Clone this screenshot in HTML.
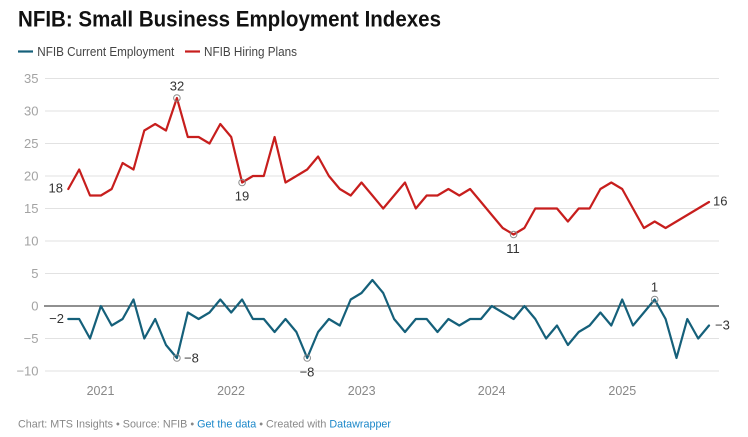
<!DOCTYPE html>
<html>
<head>
<meta charset="utf-8">
<style>
  html, body { margin: 0; padding: 0; background: #fff; }
  body { width: 748px; height: 437px; overflow: hidden; }
  svg { display: block; font-family: "Liberation Sans", Arial, sans-serif; }
</style>
</head>
<body>
<svg width="748" height="437" viewBox="0 0 748 437" xmlns="http://www.w3.org/2000/svg">
  <rect width="748" height="437" fill="#fff"/>
  <!-- Title -->
  <text x="18" y="26.7" font-size="22.5" font-weight="bold" fill="#111" textLength="423" lengthAdjust="spacingAndGlyphs">NFIB: Small Business Employment Indexes</text>
  <!-- Legend -->
  <line x1="18" y1="51.5" x2="33" y2="51.5" stroke="#15607a" stroke-width="2.2"/>
  <text x="37.3" y="56" font-size="12.5" fill="#444" textLength="137" lengthAdjust="spacingAndGlyphs">NFIB Current Employment</text>
  <line x1="185" y1="51.5" x2="200" y2="51.5" stroke="#c71e1d" stroke-width="2.2"/>
  <text x="204" y="56" font-size="12.5" fill="#444" textLength="93" lengthAdjust="spacingAndGlyphs">NFIB Hiring Plans</text>

  <!-- Gridlines -->
  <g stroke="#e2e2e2" stroke-width="1">
    <line x1="45" y1="78.5" x2="719" y2="78.5"/>
    <line x1="45" y1="111" x2="719" y2="111"/>
    <line x1="45" y1="143.5" x2="719" y2="143.5"/>
    <line x1="45" y1="176" x2="719" y2="176"/>
    <line x1="45" y1="208.5" x2="719" y2="208.5"/>
    <line x1="45" y1="241" x2="719" y2="241"/>
    <line x1="45" y1="273.5" x2="719" y2="273.5"/>
    <line x1="45" y1="338.5" x2="719" y2="338.5"/>
    <line x1="45" y1="371" x2="719" y2="371"/>
  </g>
  <line x1="44" y1="306" x2="719" y2="306" stroke="#222" stroke-width="1.1"/>

  <!-- Y labels -->
  <g font-size="13" fill="#a3a3a3" text-anchor="end">
    <text x="38.5" y="83">35</text>
    <text x="38.5" y="115.5">30</text>
    <text x="38.5" y="148">25</text>
    <text x="38.5" y="180.5">20</text>
    <text x="38.5" y="213">15</text>
    <text x="38.5" y="245.5">10</text>
    <text x="38.5" y="278">5</text>
    <text x="38.5" y="310.5">0</text>
    <text x="38.5" y="343">−5</text>
    <text x="38.5" y="375.5">−10</text>
  </g>

  <!-- X labels -->
  <g font-size="12.5" fill="#888" text-anchor="middle">
    <text x="100.5" y="395">2021</text>
    <text x="231" y="395">2022</text>
    <text x="361.7" y="395">2023</text>
    <text x="491.7" y="395">2024</text>
    <text x="622.3" y="395">2025</text>
  </g>

  <!-- Red: Hiring Plans -->
  <polyline fill="none" stroke="#c71e1d" stroke-width="2.2" stroke-linejoin="round" stroke-linecap="round"
    points="68.3,189 79.2,169.5 90,195.5 100.9,195.5 111.7,189 122.6,163 133.5,169.5 144.3,130.5 155.2,124 166,130.5 176.9,98 187.8,137 198.6,137 209.5,143.5 220.3,124 231.2,137 242.1,182.5 252.9,176 263.8,176 274.6,137 285.5,182.5 296.4,176 307.2,169.5 318.1,156.5 328.9,176 339.8,189 350.7,195.5 361.5,182.5 372.4,195.5 383.2,208.5 394.1,195.5 405,182.5 415.8,208.5 426.7,195.5 437.5,195.5 448.4,189 459.3,195.5 470.1,189 481,202 491.8,215 502.7,228 513.6,234.5 524.4,228 535.3,208.5 546.1,208.5 557,208.5 567.9,221.5 578.7,208.5 589.6,208.5 600.4,189 611.3,182.5 622.2,189 633,208.5 643.9,228 654.7,221.5 665.6,228 709,202"/>

  <!-- Teal: Current Employment -->
  <polyline fill="none" stroke="#15607a" stroke-width="2.2" stroke-linejoin="round" stroke-linecap="round"
    points="68.3,319 79.2,319 90,338.5 100.9,306 111.7,325.5 122.6,319 133.5,299.5 144.3,338.5 155.2,319 166,345 176.9,358 187.8,312.5 198.6,319 209.5,312.5 220.3,299.5 231.2,312.5 242.1,299.5 252.9,319 263.8,319 274.6,332 285.5,319 296.4,332 307.2,358 318.1,332 328.9,319 339.8,325.5 350.7,299.5 361.5,293 372.4,280 383.2,293 394.1,319 405,332 415.8,319 426.7,319 437.5,332 448.4,319 459.3,325.5 470.1,319 481,319 491.8,306 502.7,312.5 513.6,319 524.4,306 535.3,319 546.1,338.5 557,325.5 567.9,345 578.7,332 589.6,325.5 600.4,312.5 611.3,325.5 622.2,299.5 633,325.5 643.9,312.5 654.7,299.5 665.6,319 676.5,358 687.3,319 698.2,338.5 709,325.5"/>

  <!-- Annotation circles -->
  <g fill="none" stroke="#8a8a8a" stroke-width="1">
    <circle cx="176.9" cy="98" r="3.3"/>
    <circle cx="242.1" cy="182.5" r="3.3"/>
    <circle cx="513.6" cy="234.5" r="3.3"/>
    <circle cx="176.9" cy="358" r="3.3"/>
    <circle cx="307.2" cy="358" r="3.3"/>
    <circle cx="654.7" cy="299.5" r="3.3"/>
  </g>

  <!-- Annotation labels -->
  <g font-size="13" fill="#333">
    <text x="63" y="192.3" text-anchor="end">18</text>
    <text x="177" y="90.5" text-anchor="middle">32</text>
    <text x="242" y="200.5" text-anchor="middle">19</text>
    <text x="513" y="253" text-anchor="middle">11</text>
    <text x="713" y="205.3">16</text>
    <text x="64" y="323" text-anchor="end">−2</text>
    <text x="184" y="362.3">−8</text>
    <text x="307" y="376.3" text-anchor="middle">−8</text>
    <text x="654.5" y="291.3" text-anchor="middle">1</text>
    <text x="715" y="329.7">−3</text>
  </g>

  <!-- Footer -->
  <text x="18" y="427.7" font-size="11" fill="#888" textLength="373" lengthAdjust="spacingAndGlyphs">Chart: MTS Insights • Source: NFIB • <tspan fill="#1a87c9">Get the data</tspan> • Created with <tspan fill="#1a87c9">Datawrapper</tspan></text>
</svg>
</body>
</html>
